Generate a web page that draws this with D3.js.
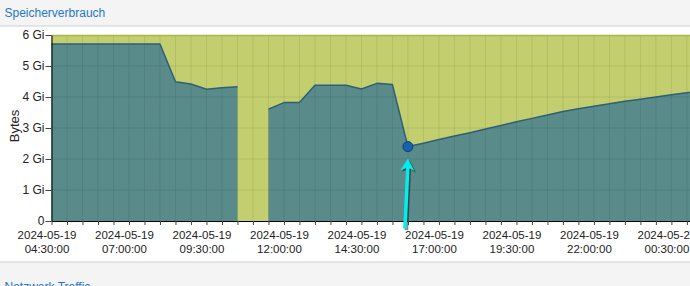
<!DOCTYPE html>
<html>
<head>
<meta charset="utf-8">
<script src="https://cdn.jsdelivr.net/npm/d3@7"></script>
<style>
  body { margin: 0; background: #f4f4f4; }
  svg { display: block; font-family: "Liberation Sans", Arial, sans-serif; }
</style>
</head>
<body>
<div class="root"></div>
<script>
// Memory usage in Gi, one value every 30 minutes from the start time (null = no data)
const startTime = "2024-05-19 04:30:00";
const memGi = [
  5.71, 5.71, 5.71, 5.71, 5.71, 5.71, 5.71, 5.71,
  4.49, 4.42, 4.25, 4.30, 4.33,
  null,
  3.61, 3.82, 3.82, 4.38, 4.38, 4.38, 4.26, 4.44, 4.40,
  2.40, 2.51, 2.63, 2.74, 2.85, 2.97, 3.08, 3.20, 3.31, 3.42, 3.53,
  3.62, 3.70, 3.78, 3.86, 3.93, 4.00, 4.07, 4.14, 4.21
];
const xTickLabels = [
  "2024-05-19 04:30:00", "2024-05-19 07:00:00", "2024-05-19 09:30:00",
  "2024-05-19 12:00:00", "2024-05-19 14:30:00", "2024-05-19 17:00:00",
  "2024-05-19 19:30:00", "2024-05-19 22:00:00", "2024-05-20 00:30:00"
];
const yTicks = [0, 1, 2, 3, 4, 5, 6];
const xEndTime = "2024-05-20 01:06:00";
const highlightTime = "2024-05-19 16:00:00";

var W = 690, H = 286;
var margin = { top: 35, left: 51.5, bottom: 221 };

var parseTime = d3.timeParse("%Y-%m-%d %H:%M:%S");
var t0 = parseTime(startTime);
var data = memGi.map(function (v, i) {
  return { time: d3.timeMinute.offset(t0, 30 * i), value: v };
});

const xScale = d3.scaleTime()
  .domain([t0, parseTime(xEndTime)])
  .range([margin.left, W]);
const yScale = d3.scaleLinear().domain([0, 6]).range([margin.bottom, margin.top]);

var svg = d3.select(".root").append("svg")
  .attr("width", W)
  .attr("height", H);

// panel frame + header
svg.append("rect").attr("x", -1).attr("y", 26).attr("width", W + 2).attr("height", 236)
  .attr("fill", "#fff").attr("stroke", "#cfcfcf");
svg.append("text").attr("x", 4.5).attr("y", 17).attr("font-size", 12).attr("fill", "#1e78c8")
  .text("Speicherverbrauch");
svg.append("text").attr("x", 4.5).attr("y", 291).attr("font-size", 12).attr("fill", "#1e78c8")
  .text("Netzwerk Traffic");

// plot background (total)
svg.append("rect")
  .attr("x", margin.left).attr("y", yScale(6))
  .attr("width", W - margin.left).attr("height", yScale(0) - yScale(6))
  .attr("fill", "#c3ce6e");

const area = d3.area()
  .defined(function (d) { return d.value !== null; })
  .x(function (d) { return xScale(d.time); })
  .y0(yScale(0))
  .y1(function (d) { return yScale(d.value); });

const line = d3.line()
  .defined(function (d) { return d.value !== null; })
  .x(function (d) { return xScale(d.time); })
  .y(function (d) { return yScale(d.value); });

svg.append("path").datum(data)
  .attr("fill", "#588b8a")
  .attr("d", area);

// grid
var minorTicks = d3.timeMinute.every(30).range(t0, parseTime(xEndTime));
svg.append("g").selectAll("line").data(minorTicks).join("line")
  .attr("x1", function (d) { return xScale(d); })
  .attr("x2", function (d) { return xScale(d); })
  .attr("y1", yScale(6)).attr("y2", yScale(0))
  .attr("stroke", "rgba(0,0,0,0.08)");
svg.append("g").selectAll("line").data(yTicks.slice(1, -1)).join("line")
  .attr("x1", margin.left).attr("x2", W)
  .attr("y1", function (d) { return yScale(d); })
  .attr("y2", function (d) { return yScale(d); })
  .attr("stroke", "rgba(0,0,0,0.08)");

// top edge of total
svg.append("line").attr("x1", margin.left).attr("x2", W)
  .attr("y1", yScale(6) + 0.5).attr("y2", yScale(6) + 0.5)
  .attr("stroke", "#a9b64c").attr("stroke-width", 1.5);

svg.append("path").datum(data)
  .attr("fill", "none")
  .attr("stroke", "#2e5f78")
  .attr("stroke-width", 1.5)
  .attr("stroke-linejoin", "round")
  .attr("d", line);

// axes
var xAxis = svg.append("g")
  .attr("transform", "translate(0," + yScale(0) + ")")
  .call(d3.axisBottom(xScale).tickValues(minorTicks).tickSize(4).tickSizeOuter(0).tickFormat(""));
xAxis.select(".domain").attr("stroke", "#000");
xAxis.selectAll(".tick line").attr("stroke", "#444");

var fmtDate = d3.timeFormat("%Y-%m-%d"), fmtTime = d3.timeFormat("%H:%M:%S");
var lbl = svg.append("g").selectAll("text").data(xTickLabels.map(parseTime)).join("text")
  .attr("text-anchor", "middle")
  .attr("font-size", 11.5)
  .attr("fill", "#222")
  .attr("transform", function (d) { return "translate(" + (xScale(d) - 4.5) + ",0)"; });
lbl.append("tspan").attr("x", 0).attr("y", 239).text(fmtDate);
lbl.append("tspan").attr("x", 0).attr("y", 253).text(fmtTime);

var yAxis = svg.append("g")
  .attr("transform", "translate(" + margin.left + ",0)")
  .call(d3.axisLeft(yScale).tickValues(yTicks).tickSize(6).tickSizeOuter(0)
    .tickFormat(function (d) { return d ? d + " Gi" : "0"; }));
yAxis.select(".domain").attr("stroke", "#000");
yAxis.selectAll(".tick line").attr("stroke", "#444");
yAxis.selectAll(".tick text").attr("font-size", 12).attr("fill", "#222")
  .attr("font-family", "Liberation Sans, Arial, sans-serif").attr("x", -7);

svg.append("text")
  .attr("font-size", 13)
  .attr("fill", "#222")
  .attr("text-anchor", "middle")
  .attr("transform", "translate(19," + ((yScale(0) + yScale(6)) / 2 - 2) + ") rotate(-90)")
  .text("Bytes");

// highlighted point + arrow
var hp = data.find(function (d) { return +d.time === +parseTime(highlightTime); });
var px = xScale(hp.time), py = yScale(hp.value);
svg.append("circle").attr("cx", px).attr("cy", py).attr("r", 5)
  .attr("fill", "#1762b0").attr("stroke", "#0d3f73").attr("stroke-width", 1);

var tipX = px, tipY = py + 12, tailX = px - 3, tailY = py + 82;
var ang = Math.atan2(tailX - tipX, tailY - tipY) * -180 / Math.PI;
function drawArrow(g, color, dx, dy) {
  var a = g.append("g").attr("transform", "translate(" + dx + "," + dy + ")");
  a.append("line").attr("x1", tailX).attr("y1", tailY).attr("x2", tipX).attr("y2", tipY + 6)
    .attr("stroke", color).attr("stroke-width", 3.5);
  a.append("path").attr("d", "M0,0 L-7,12 L0,9 L7,12 Z")
    .attr("fill", color)
    .attr("transform", "translate(" + tipX + "," + tipY + ") rotate(" + ang + ")");
}
var arrows = svg.append("g");
drawArrow(arrows, "rgba(0,0,0,0.45)", 1.5, 1.5);
drawArrow(arrows, "#00eeee", 0, 0);
</script>
</body>
</html>
